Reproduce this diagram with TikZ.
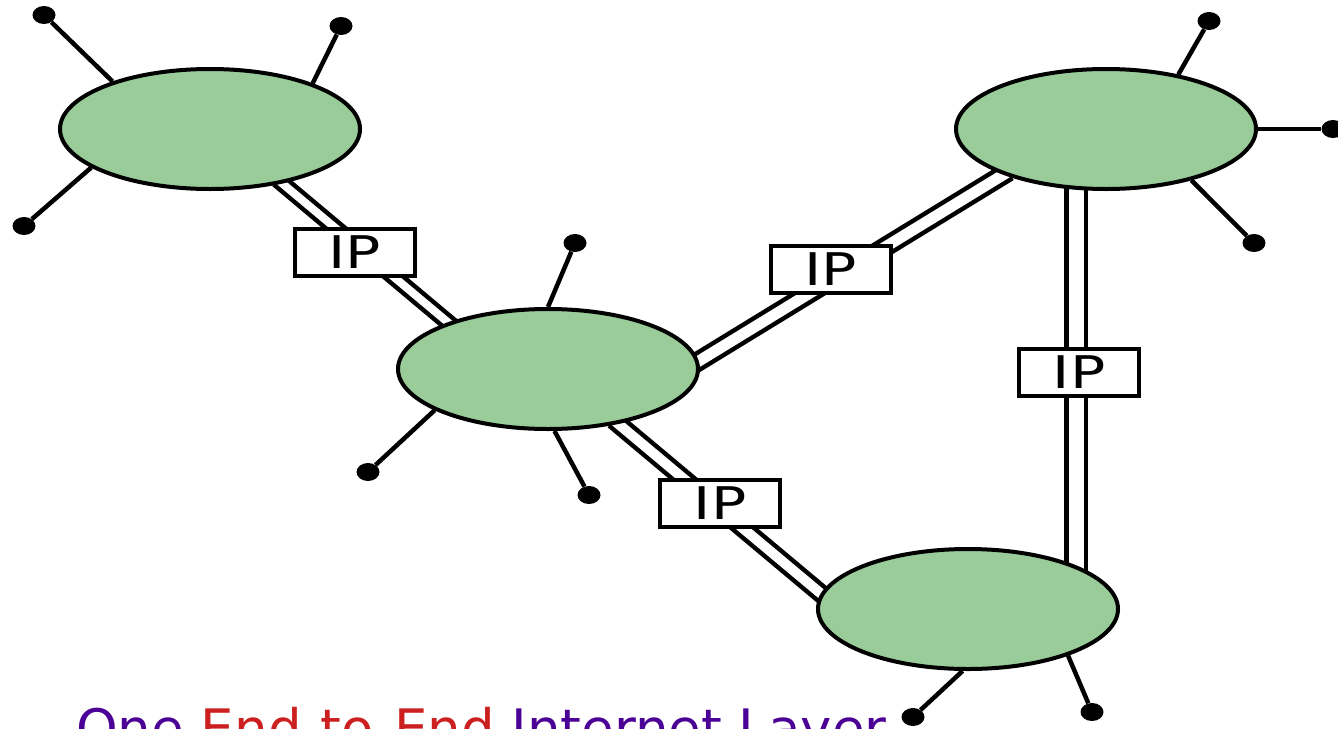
\documentclass[tikz,border=0pt]{standalone}
\usepackage{fontspec}
\setmainfont{DejaVu Sans}
\newfontfamily\ipfont[FakeStretch=1.3]{DejaVu Sans}
\usetikzlibrary{shapes.geometric}
\pgfdeclarelayer{bg}
\pgfsetlayers{bg,main}
\definecolor{cloud}{RGB}{153,204,153}
\definecolor{ttlpurple}{RGB}{75,0,150}
\definecolor{ttlred}{RGB}{204,32,32}
\tikzset{
  net/.style={ellipse, draw=black, fill=cloud, line width=4pt, minimum width=300pt, minimum height=120pt, inner sep=0pt},
  ipbox/.style={rectangle, draw=black, fill=white, line width=4pt, minimum width=120pt, minimum height=47pt, inner sep=0pt, font=\ipfont\fontsize{45}{54}\selectfont},
  host/.style={ellipse, fill=black, minimum width=23pt, minimum height=18pt, inner sep=0pt},
  spoke/.style={line width=4.5pt},
  link/.style={double=white, line width=4.5pt, double distance=#1, shorten <=-6pt, shorten >=-6pt},
}
\begin{document}
\begin{tikzpicture}[x=1pt,y=-1pt]
\useasboundingbox (0,0) rectangle (1338,728);
% networks
\node[net] (E1) at (210,129) {};
\node[net] (E2) at (548,369) {};
\node[net] (E3) at (1106,129) {};
\node[net] (E4) at (968,609) {};
% IP boxes
\node[ipbox] (B1) at (355,252.5) {IP};
\node[ipbox] (B2) at (830.5,269) {IP};
\node[ipbox] (B3) at (1079,372.5) {IP};
\node[ipbox] (B4) at (720,503.5) {IP};
% hosts
\node[host] (h11) at (44,15) {};
\node[host] (h12) at (341,26) {};
\node[host] (h13) at (24,226) {};
\node[host] (h21) at (575,243) {};
\node[host] (h22) at (368,472) {};
\node[host] (h23) at (589,495) {};
\node[host] (h31) at (1209,21) {};
\node[host] (h32) at (1333,129) {};
\node[host] (h33) at (1254,243) {};
\node[host] (h41) at (913,717) {};
\node[host] (h42) at (1092,712) {};
% title
\node[anchor=base west, inner sep=0pt, font=\fontsize{53}{60}\selectfont] (title) at (76,747)
  {\textcolor{ttlpurple}{One} \textcolor{ttlred}{End-to-End} \textcolor{ttlpurple}{Internet Layer}};
\begin{pgfonlayer}{bg}
  \draw[link=8pt] (E1.-37) -- (E2.155);
  \draw[link=11pt] (E2.3) -- (E3.204);
  \draw[link=10pt] (E2.-38) -- (E4.174);
  \draw[link=15pt] ([xshift=-30pt]E3.center) -- ([xshift=108pt]E4.center);
  \draw[spoke] (E1.154) -- (h11);
  \draw[spoke] (E1.24) -- (h12);
  \draw[spoke] (E1.198) -- (h13);
  \draw[spoke] (E2.90) -- (h21);
  \draw[spoke] (E2.200) -- (h22);
  \draw[spoke] (E2.-84) -- (h23);
  \draw[spoke] (E3.37) -- (h31);
  \draw[spoke] (E3.0) -- (h32);
  \draw[spoke] (E3.-31) -- (h33);
  \draw[spoke] (E4.-95) -- (h41);
  \draw[spoke] (E4.-25) -- (h42);
\end{pgfonlayer}
\end{tikzpicture}
\end{document}
